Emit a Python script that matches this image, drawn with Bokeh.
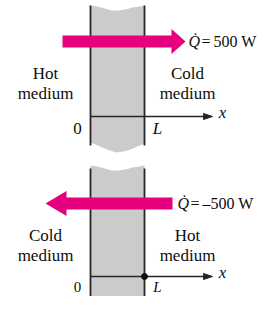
from bokeh.plotting import figure
from bokeh.models import Range1d, ColumnDataSource
from bokeh.core.properties import value
from bokeh.embed import file_html
from bokeh.resources import INLINE

# ---- data ----
heat_rates = [500, -500]                       # Q-dot, W
q_values = ["500 W", "\u2013500 W"]
left_labels = [["Hot", "medium"], ["Cold", "medium"]]
right_labels = [["Cold", "medium"], ["Hot", "medium"]]
origin_label = "0"
end_label = "L"
axis_label = "x"

# ---- layout (pixel-like coordinates) ----
panel_offsets = [0, 160]
wall_left, wall_right = 90, 144
arrow_cy = [41, 43]
arrow_tail = [62, 172]
arrow_tip = [185, 45]
head_len = [14, 21]
q_x = [188, 177]
axis_y = 116
axis_end = 212
TY = -6          # baseline correction for svg text
serif = value("Liberation Serif")
FS = "17px"
QFS = "16px"
MAG = "#e6007e"
GRAY = "#cbcbcb"
DARK = "#262626"
TXT = "#0d0d0d"

p = figure(width=257, height=296, x_range=Range1d(0, 257), y_range=Range1d(296, 0),
           output_backend="svg", toolbar_location=None, min_border=0)
p.axis.visible = False
p.grid.visible = False
p.outline_line_color = None
p.background_fill_color = "white"
p.border_fill_color = "white"

top_x = [90, 97, 104, 111, 118, 125, 132, 139, 144]
top_y = [5, 6, 8, 10, 10, 9, 7, 6, 5]
bot_x = [144, 137, 130, 123, 116, 109, 102, 95, 90]
bot_y = [143, 146, 149, 151, 152, 150, 147, 144, 142]

for i, q in enumerate(heat_rates):
    off = panel_offsets[i]
    last = i == len(heat_rates) - 1
    # wall
    p.patch(top_x + bot_x, [v + off + (8 if last else 0) * (k >= len(top_y))
                            for k, v in enumerate(top_y + bot_y)],
            fill_color=GRAY, line_color=None)
    for wx in (wall_left, wall_right):
        p.line([wx, wx], [5 + off + 3 * last, 145 + off + 10 * last], line_color=DARK, line_width=1.8)
    # heat arrow
    d = 1 if q > 0 else -1
    cy = arrow_cy[i] + off
    tail, tip = arrow_tail[i], arrow_tip[i]
    base = tip - d * head_len[i]
    ax = [tail, base, base, tip, base, base, tail]
    ay = [cy - 6, cy - 6, cy - 12.5, cy, cy + 12.5, cy + 6, cy + 6]
    p.patch(ax, ay, fill_color=MAG, line_color=None)
    # Q label
    qy = cy + 6 + TY
    p.text(x=[q_x[i]], y=[qy], text=["Q\u0307"], text_font=serif, text_font_size=QFS,
           text_font_style="italic", text_baseline="alphabetic", text_align="left", text_color=TXT)
    p.text(x=[q_x[i] + 13], y=[qy], text=["="], text_font=serif, text_font_size=QFS,
           text_baseline="alphabetic", text_align="left", text_color=TXT)
    p.text(x=[q_x[i] + 25], y=[qy], text=[q_values[i]], text_font=serif, text_font_size=QFS,
           text_baseline="alphabetic", text_align="left", text_color=TXT)
    # medium labels
    ly = 79 + off + TY + 2 * last
    src = ColumnDataSource(dict(
        x=[45, 45, 187, 187],
        y=[ly, ly + 20, ly, ly + 20],
        t=left_labels[i] + right_labels[i]))
    p.text(x="x", y="y", text="t", source=src, text_font=serif, text_font_size=FS,
           text_align="center", text_baseline="alphabetic", text_color=TXT)
    # x axis
    ay0 = axis_y + off
    p.line([wall_left, axis_end - 6], [ay0, ay0], line_color=DARK, line_width=1.4)
    p.patch([axis_end - 9, axis_end, axis_end - 9], [ay0 - 3, ay0, ay0 + 3], fill_color=DARK, line_color=DARK)
    p.text(x=[222], y=[ay0 + 2 + TY], text=[axis_label], text_font=serif, text_font_size=FS,
           text_font_style="italic", text_align="center", text_baseline="alphabetic", text_color=TXT)
    lab_y = min(ay0 + 18 + TY, 286)
    lab_fs = "15px" if last else FS
    p.text(x=[77], y=[lab_y], text=[origin_label], text_font=serif, text_font_size=lab_fs,
           text_align="center", text_baseline="alphabetic", text_color=TXT)
    p.text(x=[157], y=[lab_y], text=[end_label], text_font=serif, text_font_size=lab_fs,
           text_font_style="italic", text_align="center", text_baseline="alphabetic", text_color=TXT)
    if q < 0:
        p.scatter([wall_right], [ay0], size=6, fill_color=TXT, line_color=TXT)

open("out.html", "w").write(file_html(p, INLINE))
